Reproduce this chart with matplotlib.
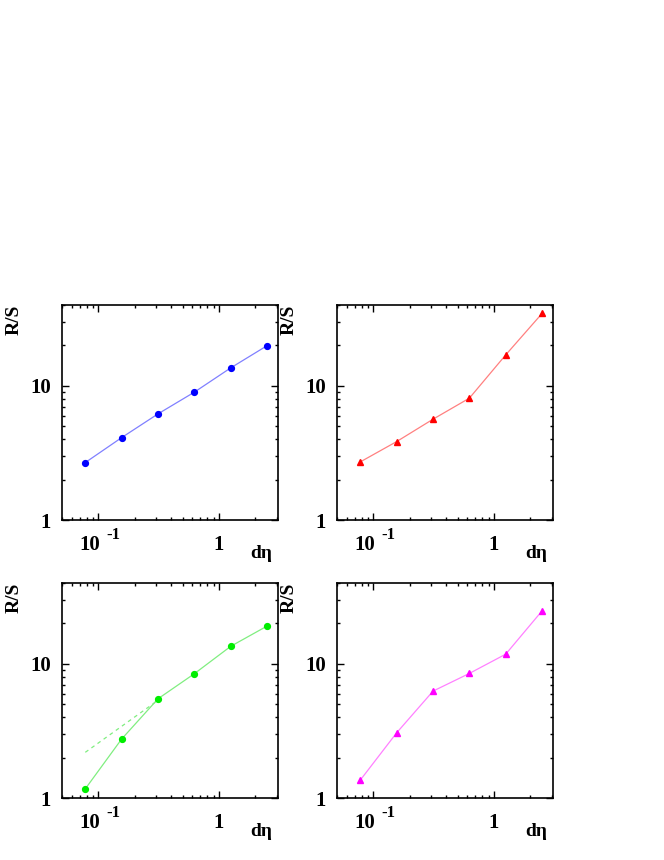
import matplotlib
matplotlib.use("Agg")
import matplotlib.pyplot as plt
import matplotlib.transforms as mtransforms
from matplotlib.ticker import LogLocator, NullFormatter, FixedLocator, FixedFormatter

plt.rcParams['font.family'] = ['Liberation Serif', 'DejaVu Serif']
plt.rcParams['font.weight'] = 'bold'

# data
d_eta = [0.078, 0.156, 0.3125, 0.625, 1.25, 2.5]
rs_blue = [2.68, 4.11, 6.18, 8.97, 13.6, 19.9]
rs_red = [2.71, 3.84, 5.64, 8.09, 17.0, 34.6]
rs_green = [1.17, 2.75, 5.49, 8.44, 13.5, 19.1]
rs_magenta = [1.36, 3.06, 6.26, 8.48, 11.8, 24.8]
fit_green_x = [0.078, 0.3125]
fit_green_y = [2.19, 5.35]

xticks = [0.1, 1]
xticklabels = ['', '1']
yticks = [1, 10]
yticklabels = ['1', '10']

W, H = 664, 860
fig = plt.figure(figsize=(W / 100, H / 100), dpi=100)

def make_ax(x0, y0, x1, y1):
    return fig.add_axes([x0 / W, 1 - y1 / H, (x1 - x0) / W, (y1 - y0) / H])

panels = [
    (62, 305, 278, 520, rs_blue, 'o', '#0000ff', '#8080ff'),
    (337, 305, 553, 520, rs_red, '^', '#ff0000', '#ff8080'),
    (62, 583, 278, 798, rs_green, 'o', '#00ee00', '#80ee80'),
    (337, 583, 553, 798, rs_magenta, '^', '#ff00ff', '#ff80ff'),
]

for i, (x0, y0, x1, y1, ys, mk, mc, lc) in enumerate(panels):
    ax = make_ax(x0, y0, x1, y1)
    ax.plot(d_eta, ys, '-', color=lc, lw=0.9, zorder=2)
    ax.plot(d_eta, ys, mk, color=mc, ms=4.2, mec=mc, zorder=3, ls='none')
    if i == 2:
        ax.plot(fit_green_x, fit_green_y, '--', color=lc, lw=0.9, dashes=(3, 3), zorder=2)
    ax.set_xscale('log')
    ax.set_yscale('log')
    ax.set_xlim(0.05, 3.08)
    ax.set_ylim(1, 40)
    ax.xaxis.set_major_locator(FixedLocator(xticks))
    ax.xaxis.set_major_formatter(FixedFormatter(xticklabels))
    ax.yaxis.set_major_locator(FixedLocator(yticks))
    ax.yaxis.set_major_formatter(FixedFormatter(yticklabels))
    ax.xaxis.set_minor_locator(LogLocator(base=10, subs=range(2, 10)))
    ax.yaxis.set_minor_locator(LogLocator(base=10, subs=range(2, 10)))
    ax.xaxis.set_minor_formatter(NullFormatter())
    ax.yaxis.set_minor_formatter(NullFormatter())
    ax.tick_params(which='both', direction='in', top=True, right=True, width=1.0,
                   labelsize=15)
    ax.tick_params(axis='x', pad=11)
    ax.tick_params(axis='y', pad=8)
    ax.tick_params(which='major', length=5)
    ax.tick_params(which='minor', length=2.5)
    for lab in ax.get_xticklabels() + ax.get_yticklabels():
        lab.set_fontweight('bold')
    for s in ax.spines.values():
        s.set_linewidth(1.2)
    # 10^-1 label built from two texts
    tr = mtransforms.blended_transform_factory(ax.transData, ax.transAxes)
    off_a = mtransforms.offset_copy(tr, fig=fig, x=2, y=0, units='dots')
    off_b = mtransforms.offset_copy(tr, fig=fig, x=8, y=0, units='dots')
    ax.text(xticks[0], -30 / 215, '10', transform=off_a, ha='right', va='baseline',
            fontsize=15, fontweight='bold')
    ax.text(xticks[0], -19 / 215, '-1', transform=off_b, ha='left', va='baseline',
            fontsize=12, fontweight='bold')
    ax.text(-48 / 216, 1.0, 'R/S', transform=ax.transAxes, rotation=90,
            ha='center', va='top', fontsize=14, fontweight='bold')
    ax.text(0.975, -38 / 215, 'dη', transform=ax.transAxes, ha='right',
            va='baseline', fontsize=14, fontweight='bold')

fig.savefig('out.png', dpi=100)
